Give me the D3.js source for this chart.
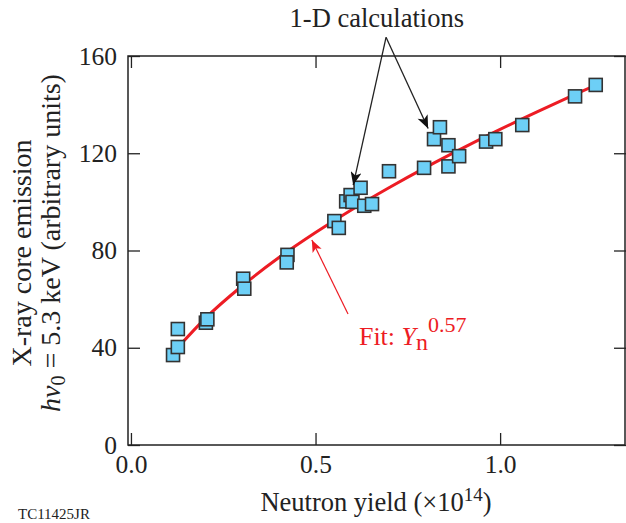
<!DOCTYPE html>
<html>
<head>
<meta charset="utf-8">
<script src="https://cdn.jsdelivr.net/npm/d3@7"></script>
<style>
  body { margin: 0; background: #fff; }
  svg { display: block; font-family: "Liberation Serif", "DejaVu Serif", serif; }
</style>
</head>
<body>
<div id="chart"></div>
<script>
// measured points (neutron yield x1e14, x-ray emission)
var yieldVals = [0.114, 0.127, 0.127, 0.203, 0.207, 0.304, 0.307, 0.424, 0.422,
  0.551, 0.563, 0.583, 0.595, 0.600, 0.622, 0.632, 0.653, 0.699, 0.794,
  0.821, 0.837, 0.860, 0.860, 0.889, 0.962, 0.987, 1.060, 1.203, 1.259];
var emissionVals = [37.0, 40.3, 47.7, 50.3, 51.7, 68.4, 64.3, 78.2, 75.1,
  92.1, 89.3, 100.2, 102.8, 100.0, 105.8, 98.4, 99.1, 112.6, 114.0,
  125.8, 130.7, 123.3, 114.6, 118.8, 124.8, 125.8, 131.6, 143.4, 148.1];

// fit curve
var fitX = [0.13, 0.2, 0.3, 0.4, 0.5, 0.6, 0.7, 0.8, 0.9, 1.0, 1.1, 1.2, 1.275];
var fitY = [40.6, 51.9, 65.3, 77.0, 87.4, 97.0, 105.9, 114.3, 122.2, 129.8, 137.0, 144.0, 149.1];

var xTicks = [0.0, 0.5, 1.0];
var yTicks = [0, 40, 80, 120, 160];

var margin = {top: 56, right: 0, bottom: 78, left: 128},
    width = 626 - margin.left - margin.right,
    height = 523 - margin.top - margin.bottom;

var svg = d3.select("#chart")
  .append("svg")
    .attr("width", 626)
    .attr("height", 523);

var g = svg.append("g")
  .attr("transform", "translate(" + margin.left + "," + margin.top + ")");

var x = d3.scaleLinear().domain([-0.008, 1.341]).range([0, width]);
var y = d3.scaleLinear().domain([0, 160]).range([height, 0]);

// arrow heads
var defs = svg.append("defs");
defs.append("marker")
  .attr("id", "headBlack")
  .attr("viewBox", "0 0 12 10")
  .attr("refX", 12).attr("refY", 5)
  .attr("markerWidth", 14).attr("markerHeight", 11)
  .attr("markerUnits", "userSpaceOnUse")
  .attr("orient", "auto")
  .append("path")
    .attr("d", "M0,0 L12,5 L0,10 L3,5 Z")
    .attr("fill", "#111");
defs.append("marker")
  .attr("id", "headRed")
  .attr("viewBox", "0 0 12 10")
  .attr("refX", 12).attr("refY", 5)
  .attr("markerWidth", 13).attr("markerHeight", 10)
  .attr("markerUnits", "userSpaceOnUse")
  .attr("orient", "auto")
  .append("path")
    .attr("d", "M0,0 L12,5 L0,10 L3,5 Z")
    .attr("fill", "#ed1c24");

// axes, ticks pointing inward
var tickLen = 12;
var xAxis = g.append("g")
  .attr("transform", "translate(0," + height + ")")
  .call(d3.axisBottom(x).tickValues(xTicks).tickSize(-tickLen).tickPadding(10)
    .tickFormat(d3.format(".1f")));
var xTop = g.append("g")
  .call(d3.axisTop(x).tickValues(xTicks).tickSize(-tickLen).tickFormat(""));
var yAxis = g.append("g")
  .call(d3.axisLeft(y).tickValues(yTicks).tickSize(-tickLen).tickPadding(11));
var yRight = g.append("g")
  .attr("transform", "translate(" + width + ",0)")
  .call(d3.axisRight(y).tickValues(yTicks).tickSize(-tickLen).tickFormat(""));

[xAxis, xTop, yAxis, yRight].forEach(function(a) {
  a.select(".domain").remove();
  a.selectAll("line").attr("stroke", "#222").attr("stroke-width", 1.3);
  a.selectAll("text")
    .attr("fill", "#222")
    .style("font-family", "Liberation Serif, serif")
    .style("font-size", "25.5px");
});

// frame
g.append("rect")
  .attr("x", 0).attr("y", 0)
  .attr("width", width - 1).attr("height", height)
  .attr("fill", "none")
  .attr("stroke", "#222")
  .attr("stroke-width", 1.5);

// fit line
var fitData = fitX.map(function(v, i) { return {x: v, y: fitY[i]}; });
g.append("path")
  .datum(fitData)
  .attr("fill", "none")
  .attr("stroke", "#ed1c24")
  .attr("stroke-width", 3)
  .attr("d", d3.line().x(d => x(d.x)).y(d => y(d.y)).curve(d3.curveMonotoneX));

// data squares
var pts = yieldVals.map(function(v, i) { return {x: v, y: emissionVals[i]}; });
var sq = 13;
g.selectAll("rect.pt")
  .data(pts)
  .enter()
  .append("rect")
    .attr("class", "pt")
    .attr("x", d => x(d.x) - sq / 2)
    .attr("y", d => y(d.y) - sq / 2)
    .attr("width", sq)
    .attr("height", sq)
    .attr("fill", "#6dcff6")
    .attr("stroke", "#333")
    .attr("stroke-width", 1.6);

// "1-D calculations" annotation
g.append("text")
  .attr("x", x(0.666))
  .attr("y", y(171.8))
  .attr("text-anchor", "middle")
  .attr("fill", "#222")
  .style("font-size", "26.5px")
  .text("1-D calculations");

var arrowStart = {x: 0.691, y: 167.7};
var arrowTips = [{x: 0.602, y: 106.9}, {x: 0.805, y: 130.2}];
arrowTips.forEach(function(t) {
  g.append("line")
    .attr("x1", x(arrowStart.x)).attr("y1", y(arrowStart.y))
    .attr("x2", x(t.x)).attr("y2", y(t.y))
    .attr("stroke", "#222")
    .attr("stroke-width", 1.3)
    .attr("marker-end", "url(#headBlack)");
});

// fit annotation
g.append("line")
  .attr("x1", x(0.588)).attr("y1", y(53.9))
  .attr("x2", x(0.490)).attr("y2", y(84.3))
  .attr("stroke", "#ed1c24")
  .attr("stroke-width", 1.2)
  .attr("marker-end", "url(#headRed)");

var fitLabel = g.append("text")
  .attr("x", x(0.6176))
  .attr("y", y(41.1))
  .attr("fill", "#ed1c24")
  .style("font-size", "26px");
fitLabel.append("tspan").text("Fit: ");
fitLabel.append("tspan").style("font-style", "italic").text("Y");
fitLabel.append("tspan").attr("dy", 5).style("font-size", "24px").text("n");
fitLabel.append("tspan").attr("dy", -18).style("font-size", "22px").text("0.57");

// axis labels
svg.append("text")
  .attr("x", 376)
  .attr("y", 511)
  .attr("text-anchor", "middle")
  .attr("fill", "#222")
  .style("font-size", "26.5px")
  .call(function(t) {
    t.append("tspan").text("Neutron yield (\u00d710");
    t.append("tspan").attr("dy", -10).style("font-size", "19px").text("14");
    t.append("tspan").attr("dy", 10).text(")");
  });

svg.append("text")
  .attr("transform", "translate(31,253) rotate(-90)")
  .attr("text-anchor", "middle")
  .attr("fill", "#222")
  .style("font-size", "28px")
  .text("X-ray core emission");

svg.append("text")
  .attr("transform", "translate(60,243) rotate(-90)")
  .attr("text-anchor", "middle")
  .attr("fill", "#222")
  .style("font-size", "28px")
  .call(function(t) {
    t.append("tspan").style("font-style", "italic").text("h\u03bd");
    t.append("tspan").attr("dy", 5).style("font-size", "20px").text("0");
    t.append("tspan").attr("dy", -5).text(" = 5.3 keV (arbitrary units)");
  });

svg.append("text")
  .attr("x", 18)
  .attr("y", 519)
  .attr("fill", "#222")
  .style("font-size", "15px")
  .text("TC11425JR");
</script>
</body>
</html>
